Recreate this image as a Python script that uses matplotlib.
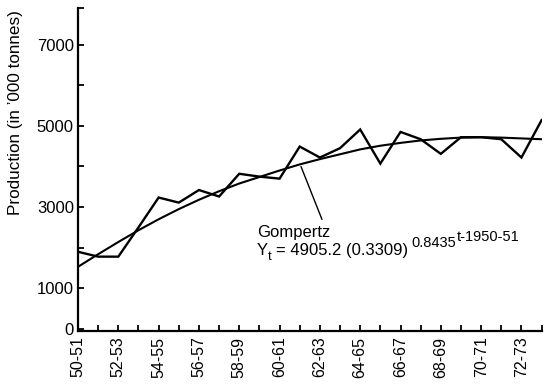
import matplotlib
matplotlib.use("Agg")
import matplotlib.pyplot as plt

plt.rcParams["font.family"] = ["Liberation Sans", "DejaVu Sans"]

W, H = 547, 386

years = ["50-51", "51-52", "52-53", "53-54", "54-55", "55-56", "56-57", "57-58",
         "58-59", "59-60", "60-61", "61-62", "62-63", "63-64", "64-65", "65-66",
         "66-67", "67-68", "68-69", "69-70", "70-71", "71-72", "72-73", "73-74"]

production = [1900, 1780, 1780, 2500, 3235, 3110, 3420, 3260, 3820, 3750, 3700, 4490,
              4220, 4450, 4910, 4070, 4850, 4670, 4310, 4720, 4720, 4670, 4220, 5140]

# fitted Gompertz trend
gompertz = [1530, 1840, 2140, 2430, 2700, 2950, 3180, 3390, 3580, 3740, 3900, 4050,
            4180, 4300, 4420, 4510, 4580, 4640, 4680, 4710, 4720, 4710, 4690, 4670]

ytick_major = [0, 1000, 3000, 5000, 7000]
ytick_minor = [2000, 4000, 6000, 7900]


def px(x, y):
    # pixel position (from top-left) -> figure fraction
    return x / W, 1 - y / H


fig = plt.figure(figsize=(W / 100, H / 100), dpi=100)
ax = fig.add_axes([78 / W, 55 / H, 464 / W, 323 / H])

x = list(range(len(years)))
ax.plot(x, production, color="black", lw=1.7, solid_joinstyle="miter")
ax.plot(x, gompertz, color="black", lw=1.5)

ax.set_xlim(0, len(years) - 1 + 0.02)
ax.set_ylim(-50, 7900)

ax.set_xticks(x)
ax.set_xticklabels([y if i % 2 == 0 else "" for i, y in enumerate(years)],
                   rotation=90, fontsize=11.5)
ax.set_yticks(ytick_major)
ax.set_yticklabels([str(v) for v in ytick_major], fontsize=12)
ax.set_yticks(ytick_minor, minor=True)

ax.tick_params(axis="x", direction="in", length=4, width=1.3, pad=4)
ax.tick_params(axis="y", which="both", direction="in", length=4, width=1.3, pad=3)
for s in ("top", "right"):
    ax.spines[s].set_visible(False)
for s in ("left", "bottom"):
    ax.spines[s].set_linewidth(1.6)

fig.text(*px(16, 113), "Production (in \u2019000 tonnes)", rotation=90,
         ha="center", va="center", fontsize=12.3)

# annotation: pointer from the curve down to the label
ax.annotate("", xy=px(300, 164), xycoords="figure fraction",
            xytext=px(323, 222), textcoords="figure fraction",
            arrowprops=dict(arrowstyle="-", color="black", lw=1.0))
fig.text(*px(257, 237), "Gompertz", fontsize=12, ha="left", va="baseline")
fig.text(*px(257, 255), "Y", fontsize=12, ha="left", va="baseline")
fig.text(*px(268, 260), "t", fontsize=9.5, ha="left", va="baseline")
fig.text(*px(276, 255), "= 4905.2 (0.3309)", fontsize=12, ha="left", va="baseline")
fig.text(*px(411, 247), "0.8435", fontsize=10.5, ha="left", va="baseline")
fig.text(*px(457, 241), "t-1950-51", fontsize=10.5, ha="left", va="baseline")

fig.savefig("out.png", dpi=100)
